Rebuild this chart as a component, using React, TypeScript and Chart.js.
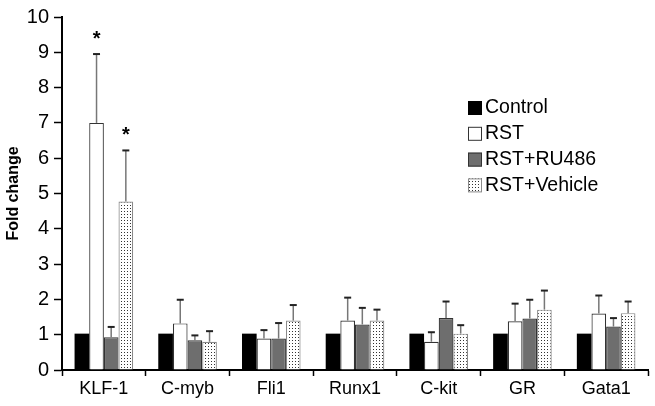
import React, { useEffect, useRef } from "react";
import { Chart, registerables } from "chart.js";

Chart.register(...registerables);

const categories = ["KLF-1", "C-myb", "Fli1", "Runx1", "C-kit", "GR", "Gata1"];
const seriesNames = ["Control", "RST", "RST+RU486", "RST+Vehicle"];
const controlValues = [1.03, 1.03, 1.03, 1.03, 1.03, 1.03, 1.03];
const rstValues = [7.0, 1.32, 0.89, 1.4, 0.8, 1.38, 1.6];
const ru486Values = [0.93, 0.84, 0.89, 1.29, 1.47, 1.46, 1.23];
const vehicleValues = [4.77, 0.8, 1.4, 1.4, 1.03, 1.71, 1.61];
const controlErr = [0, 0, 0, 0, 0, 0, 0];
const rstErr = [1.95, 0.67, 0.24, 0.65, 0.27, 0.5, 0.51];
const ru486Err = [0.29, 0.14, 0.44, 0.47, 0.47, 0.53, 0.24];
const vehicleErr = [1.45, 0.3, 0.44, 0.31, 0.24, 0.54, 0.33];
const rstSig = [true, false, false, false, false, false, false];
const ru486Sig = [false, false, false, false, false, false, false];
const vehicleSig = [true, false, false, false, false, false, false];
const yTicks = [0, 1, 2, 3, 4, 5, 6, 7, 8, 9, 10];

const FONT = "'Liberation Sans', Arial, sans-serif";

function makePattern(): CanvasPattern | string {
  const c = document.createElement("canvas");
  c.width = 3;
  c.height = 3;
  const ctx = c.getContext("2d");
  if (!ctx) return "#eee";
  ctx.fillStyle = "#ffffff";
  ctx.fillRect(0, 0, 3, 3);
  ctx.fillStyle = "#333333";
  ctx.fillRect(1, 1, 1, 1);
  const p = ctx.createPattern(c, "repeat");
  return p || "#eee";
}

export default function App() {
  const ref = useRef<HTMLCanvasElement | null>(null);
  useEffect(() => {
    document.body.style.margin = "0";
    if (!ref.current) return;
    const pattern = makePattern();
    const errs = [controlErr, rstErr, ru486Err, vehicleErr];
    const sigs = [controlErr.map(() => false), rstSig, ru486Sig, vehicleSig];
    const fills: any[] = ["#000000", "#ffffff", "#6e6e6e", pattern];
    const borders = ["#000000", "#333333", "#333333", "#8a8a8a"];

    const errorPlugin = {
      id: "errbars",
      afterDatasetsDraw(chart: any) {
        const ctx = chart.ctx;
        const ys = chart.scales.y;
        chart.data.datasets.forEach((ds: any, di: number) => {
          const meta = chart.getDatasetMeta(di);
          meta.data.forEach((el: any, i: number) => {
            const v = ds.data[i];
            const e = errs[di][i];
            const x = el.x;
            const yv = ys.getPixelForValue(v);
            const yt = ys.getPixelForValue(v + e);
            if (e > 0) {
              ctx.save();
              ctx.strokeStyle = "#777777";
              ctx.lineWidth = 1.5;
              ctx.beginPath();
              ctx.moveTo(x, yv);
              ctx.lineTo(x, yt);
              ctx.stroke();
              ctx.strokeStyle = "#222222";
              ctx.lineWidth = 2;
              ctx.beginPath();
              ctx.moveTo(x - 3.5, yt);
              ctx.lineTo(x + 3.5, yt);
              ctx.stroke();
              ctx.restore();
            }
            if (sigs[di][i]) {
              ctx.save();
              ctx.fillStyle = "#000";
              ctx.font = `bold 20px ${FONT}`;
              ctx.textAlign = "center";
              ctx.textBaseline = "middle";
              ctx.fillText("*", x, yt - 15);
              ctx.restore();
            }
          });
        });
      },
    };

    const legendPlugin = {
      id: "customLegend",
      afterDraw(chart: any) {
        const ctx = chart.ctx;
        const ca = chart.chartArea;
        const x0 = ca.left + 406;
        const y0 = ca.top + 90;
        chart.data.datasets.forEach((ds: any, i: number) => {
          const cy = y0 + i * 25.8;
          ctx.save();
          ctx.fillStyle = fills[i];
          ctx.fillRect(x0, cy - 6, 14, 14);
          ctx.strokeStyle = i === 0 ? "#000" : borders[i];
          ctx.lineWidth = 1;
          ctx.strokeRect(x0 + 0.5, cy - 5.5, 13, 13);
          ctx.fillStyle = "#000";
          ctx.font = `19.5px ${FONT}`;
          ctx.textAlign = "left";
          ctx.textBaseline = "middle";
          ctx.fillText(ds.label, x0 + 17, cy + 1);
          ctx.restore();
        });
      },
    };

    const valuesList = [controlValues, rstValues, ru486Values, vehicleValues];
    const chart = new Chart(ref.current, {
      type: "bar",
      data: {
        labels: categories,
        datasets: seriesNames.map((name, i) => ({
          label: name,
          data: valuesList[i],
          backgroundColor: fills[i],
          borderColor: borders[i],
          borderWidth: i === 0 ? 0 : 1.2,
          categoryPercentage: 0.7,
          barPercentage: 1.0,
        })),
      },
      options: {
        animation: false,
        responsive: false,
        maintainAspectRatio: false,
        layout: { padding: { top: 3, right: 7, left: 0, bottom: 0 } },
        plugins: { legend: { display: false }, tooltip: { enabled: false } },
        scales: {
          x: {
            grid: {
              display: true,
              drawOnChartArea: false,
              drawTicks: true,
              tickLength: 6,
              tickColor: "#000",
              tickWidth: 1.5,
              offset: true,
            },
            border: { display: true, color: "#000", width: 2 },
            ticks: {
              color: "#000",
              font: { family: FONT, size: 18 },
              padding: 2,
              maxRotation: 0,
            },
            afterFit: (s: any) => {
              s.height = 36;
            },
          },
          y: {
            min: 0,
            max: 10,
            afterBuildTicks: (s: any) => {
              s.ticks = yTicks.map((v) => ({ value: v }));
            },
            grid: {
              display: true,
              drawOnChartArea: false,
              drawTicks: true,
              tickLength: 8,
              tickColor: "#000",
              tickWidth: 1.5,
            },
            border: { display: true, color: "#000", width: 2 },
            ticks: {
              color: "#000",
              font: { family: FONT, size: 20 },
              padding: 5,
            },
            title: {
              display: true,
              text: "Fold change",
              color: "#000",
              font: { family: FONT, size: 16, weight: "bold" },
              padding: { top: 4, bottom: 0 },
            },
            afterFit: (s: any) => {
              s.width = 62;
            },
          },
        },
      },
      plugins: [errorPlugin, legendPlugin],
    });
    return () => chart.destroy();
  }, []);
  return (
    <div style={{ position: "absolute", left: 0, top: 0, width: 655, height: 406, background: "#fff" }}>
      <canvas ref={ref} width={655} height={406} style={{ width: 655, height: 406 }} />
    </div>
  );
}
